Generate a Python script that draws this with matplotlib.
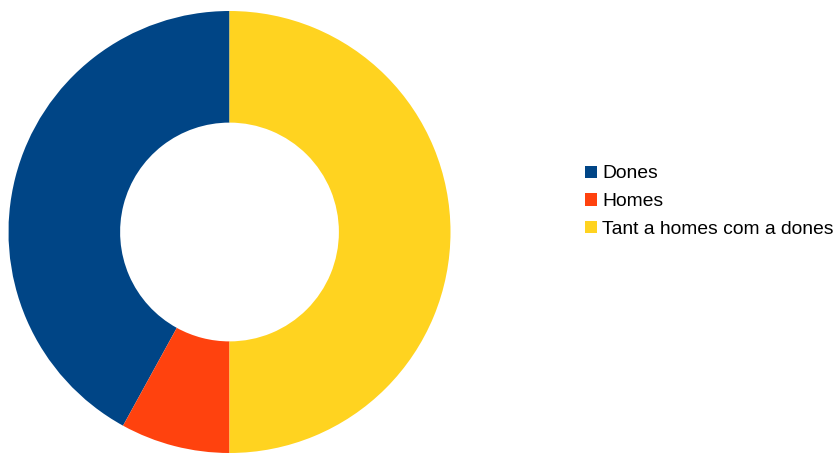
import matplotlib.pyplot as plt

# survey answers
labels = ["Dones", "Homes", "Tant a homes com a dones"]
counts = [21, 4, 25]
colors = ["#004586", "#ff420e", "#ffd320"]

plt.rcParams['font.family'] = ['Liberation Sans', 'DejaVu Sans']

fig = plt.figure(figsize=(8.39, 4.53), dpi=100)

# donut axes, square on the left
ax = fig.add_axes([8.5 / 839, 0 / 453, 442 / 839, 442 / 453])
wedges, _ = ax.pie(counts, colors=colors, startangle=90, counterclock=True,
                   radius=1.0, wedgeprops=dict(width=0.505, linewidth=0))
ax.set_xlim(-1, 1)
ax.set_ylim(-1, 1)
ax.set_aspect('equal')
ax.axis('off')

fig.legend(wedges, labels, loc='upper left',
           bbox_to_anchor=(585 / 839, 1 - 165.5 / 453),
           frameon=False, fontsize=13.9, borderpad=0, borderaxespad=0,
           handlelength=0.6, handleheight=0.6, handletextpad=0.3,
           labelspacing=0.56)

fig.savefig("out.png", dpi=100)
